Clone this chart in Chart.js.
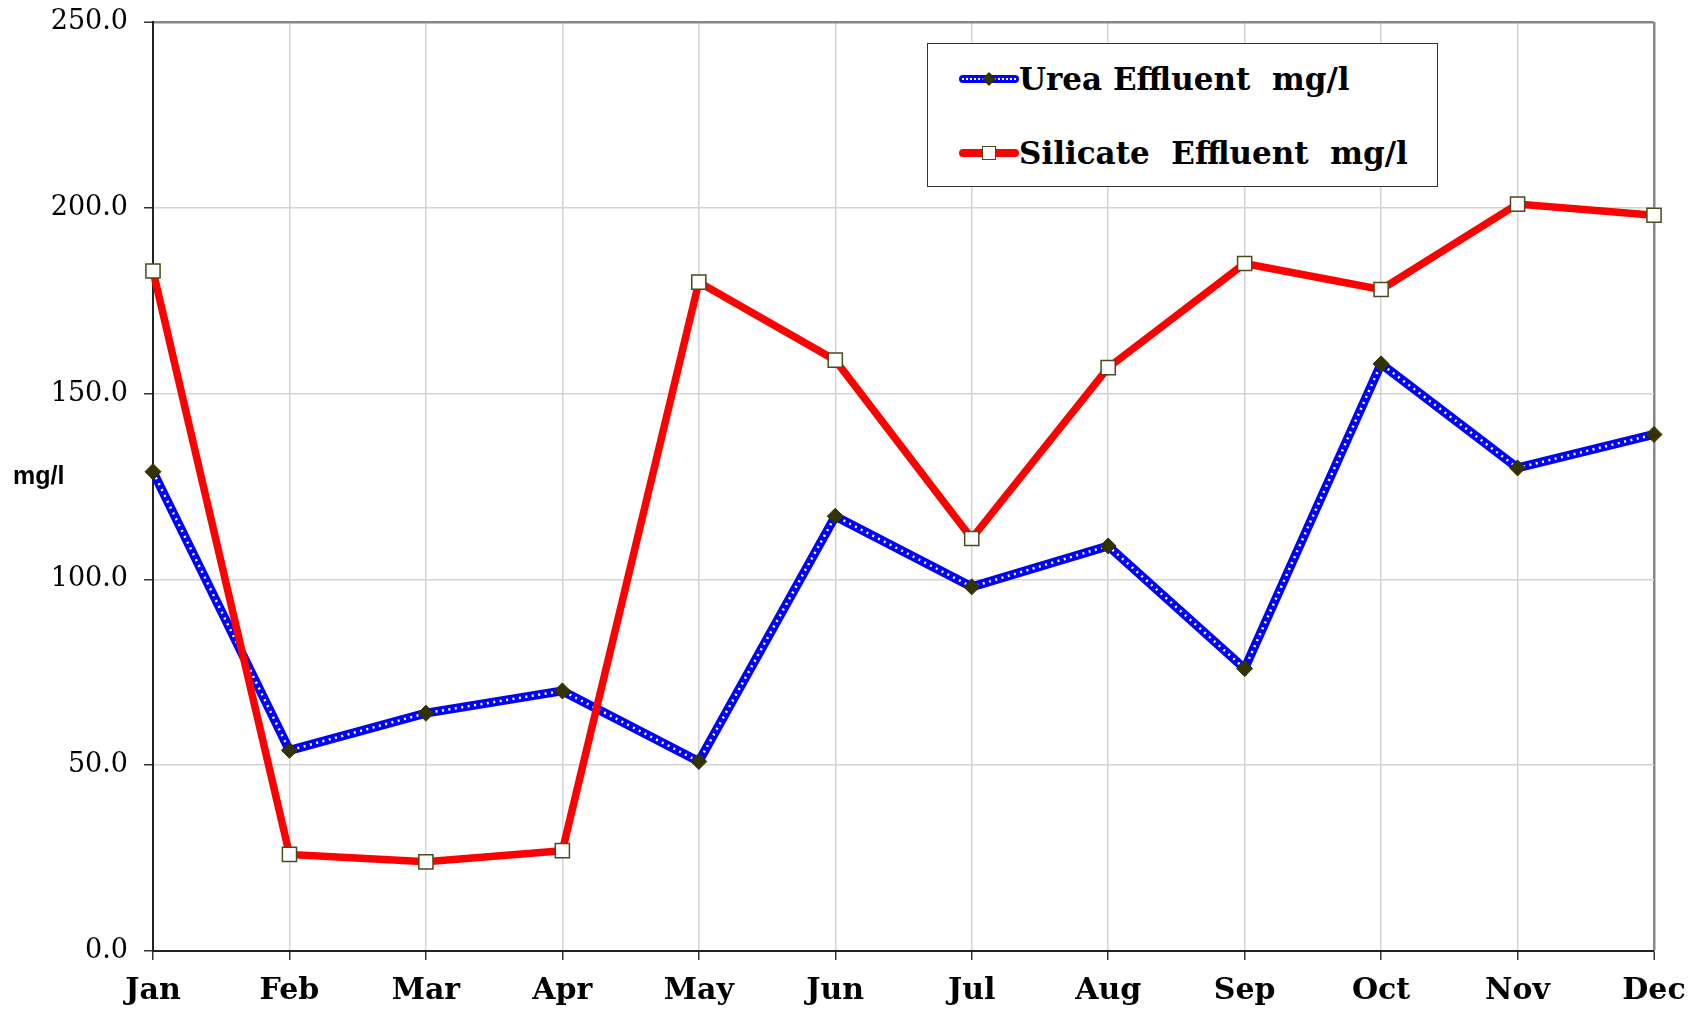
<!DOCTYPE html>
<html>
<head>
<meta charset="utf-8">
<script src="https://cdn.jsdelivr.net/npm/chart.js@4"></script>
<style>
    body { margin: 0; background: #fff; }
    #wrap { position: relative; width: 1695px; height: 1011px; }
    #yTitle { position: absolute; left: 13px; top: 461px; font: bold 25px "Liberation Sans", Arial, sans-serif; color: #000; }
    #legend { position: absolute; left: 927px; top: 43px; width: 511px; height: 144px; border: 1px solid #333; background: #fff; box-sizing: border-box; }
    .row { position: absolute; left: 31px; height: 40px; display: flex; align-items: center; }
    .sample { position: relative; width: 60px; height: 20px; }
    .txt { font: bold 31px "DejaVu Serif", serif; white-space: pre; color: #000; }
    .blueLine { position: absolute; left: 0; top: 6px; width: 60px; height: 8px; background: #0000ff; border-radius: 4px; }
    .blueDots { position: absolute; left: 3px; top: 9px; width: 54px; border-top: 2px dotted #fff; }
    .diamond { position: absolute; left: 25px; top: 5px; width: 10px; height: 10px; background: #333300; transform: rotate(45deg); }
    .redLine { position: absolute; left: 0; top: 6px; width: 60px; height: 8px; background: #ff0000; border-radius: 4px; }
    .square { position: absolute; left: 23px; top: 3px; width: 12px; height: 12px; background: #fff; border: 1.5px solid #4a4a1a; }
</style>
</head>
<body>
<div id="wrap">
    <canvas id="myChart" width="1695" height="1011"></canvas>
    <div id="yTitle">mg/l</div>
    <div id="legend">
        <div class="row" style="top: 15px;">
            <div class="sample"><div class="blueLine"></div><div class="blueDots"></div><div class="diamond"></div></div>
            <span class="txt">Urea Effluent  mg/l</span>
        </div>
        <div class="row" style="top: 89px;">
            <div class="sample"><div class="redLine"></div><div class="square"></div></div>
            <span class="txt">Silicate  Effluent  mg/l</span>
        </div>
    </div>
</div>
<script>
const months = ['Jan', 'Feb', 'Mar', 'Apr', 'May', 'Jun', 'Jul', 'Aug', 'Sep', 'Oct', 'Nov', 'Dec'];
const urea = [129, 54, 64, 70, 51, 117, 98, 109, 76, 158, 130, 139];
const silicate = [183, 26, 24, 27, 180, 159, 111, 157, 185, 178, 201, 198];
const yTicks = [0, 50, 100, 150, 200, 250];

const ctx = document.getElementById('myChart').getContext('2d');
const myChart = new Chart(ctx, {
    type: 'line',
    data: {
        labels: months,
        datasets: [{
            // linea azul gruesa
            label: 'Urea Effluent  mg/l',
            data: urea,
            borderColor: '#0000ff',
            borderWidth: 9,
            pointRadius: 0,
            tension: 0,
            clip: false,
            order: 4
        }, {
            // puntos blancos encima de la linea azul
            label: 'dots',
            data: urea,
            borderColor: '#ffffff',
            borderWidth: 2.5,
            borderDash: [2, 4.5],
            pointRadius: 0,
            tension: 0,
            clip: false,
            order: 3
        }, {
            label: 'marks',
            data: urea,
            showLine: false,
            pointStyle: 'rectRot',
            pointRadius: 8,
            pointBackgroundColor: '#333300',
            pointBorderColor: '#333300',
            pointBorderWidth: 1,
            clip: false,
            order: 2
        }, {
            label: 'Silicate  Effluent  mg/l',
            data: silicate,
            borderColor: '#ff0000',
            borderWidth: 7.5,
            pointStyle: 'rect',
            pointRadius: 10,
            pointBackgroundColor: '#ffffff',
            pointBorderColor: '#4a4a1a',
            pointBorderWidth: 1.5,
            tension: 0,
            clip: false,
            order: 1
        }]
    },
    options: {
        responsive: false,
        animation: false,
        events: [],
        layout: { padding: { top: 22, right: 41, left: 0, bottom: 0 } },
        plugins: {
            legend: { display: false },
            tooltip: { enabled: false }
        },
        scales: {
            x: {
                offset: false,
                afterFit: (scale) => {
                    scale.height = 60;
                    scale.paddingLeft = 0;
                    scale.paddingRight = 0;
                },
                grid: {
                    color: (c) => c.index === months.length - 1 ? '#888888' : '#d4d4d4',
                    lineWidth: (c) => c.index === months.length - 1 ? 2.5 : 1.5,
                    tickColor: '#333333',
                    tickLength: 9,
                    tickWidth: 1.5
                },
                border: { color: '#222222', width: 2 },
                ticks: {
                    padding: 13,
                    maxRotation: 0,
                    color: '#000',
                    font: { family: '"DejaVu Serif", serif', size: 30, weight: 'bold' }
                }
            },
            y: {
                min: 0,
                max: 250,
                afterFit: (scale) => {
                    scale.width = 153;
                    scale.paddingTop = 0;
                    scale.paddingBottom = 0;
                },
                afterBuildTicks: (scale) => { scale.ticks = yTicks.map(v => ({ value: v })); },
                grid: {
                    color: (c) => c.tick && c.tick.value === 250 ? '#888888' : '#d4d4d4',
                    lineWidth: (c) => c.tick && c.tick.value === 250 ? 2.5 : 1.5,
                    tickColor: '#333333',
                    tickLength: 9,
                    tickWidth: 1.5
                },
                border: { color: '#222222', width: 2 },
                ticks: {
                    padding: 16,
                    color: '#000',
                    font: { family: '"DejaVu Serif", serif', size: 27 },
                    callback: (v) => Number(v).toFixed(1)
                }
            }
        }
    }
});
</script>
</body>
</html>
